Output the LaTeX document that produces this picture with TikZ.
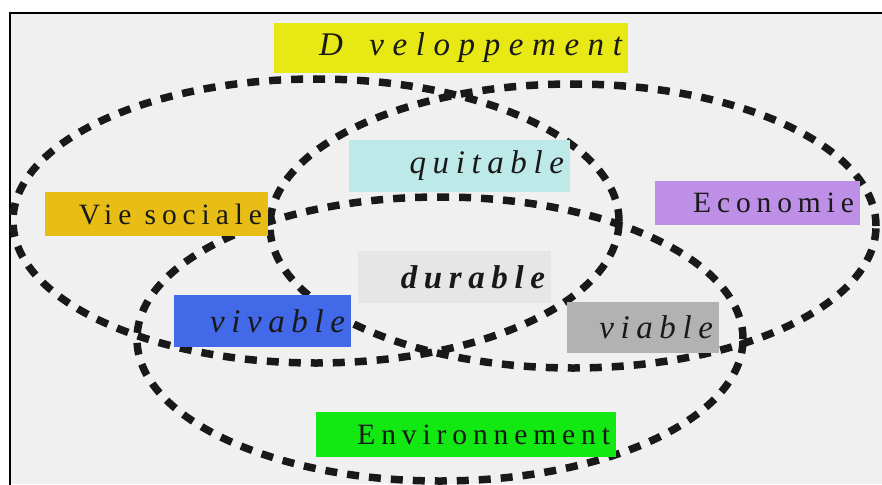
\documentclass[tikz,border=0pt]{standalone}
\usepackage{fontspec}
\setmainfont{Liberation Serif}
\newfontfamily\spacedfont[LetterSpace=20]{Liberation Serif}

\definecolor{paper}{RGB}{240,240,240}
\definecolor{devyellow}{RGB}{232,232,20}
\definecolor{socgold}{RGB}{232,190,22}
\definecolor{equcyan}{RGB}{190,233,233}
\definecolor{ecopurple}{RGB}{190,143,230}
\definecolor{durgray}{RGB}{230,230,230}
\definecolor{vivblue}{RGB}{65,105,232}
\definecolor{viagray}{RGB}{178,178,178}
\definecolor{envgreen}{RGB}{18,232,18}

\tikzset{
  ring/.style={line width=7.5pt, dash pattern=on 12pt off 10pt, black!90},
  tag/.style={fill=#1, inner xsep=6pt, inner ysep=0pt, align=right, text=black!90},
  uplabel/.style={font=\spacedfont\fontsize{29.5}{34}\selectfont},
  itlabel/.style={font=\spacedfont\itshape\fontsize{33}{38}\selectfont},
  bilabel/.style={font=\spacedfont\bfseries\itshape\fontsize{33}{38}\selectfont},
}

\begin{document}
\begin{tikzpicture}[x=1pt, y=-1pt]
    \useasboundingbox (0,0) rectangle (882,484);

    % sheet and frame
    \fill[white] (0,0) rectangle (882,484);
    \fill[paper] (10,13) rectangle (882,484);
    \draw[line width=2.5pt] (10,490) |- (890,13);

    % the three rings: social, economy, environment
    \foreach \cx/\cy in {316/221, 573/226, 440/339} {
        \draw[ring] (\cx,\cy) ellipse [x radius=303pt, y radius=142pt];
    }

    % title
    \node[tag=devyellow, itlabel, text width=342pt, minimum height=50pt] (dev) at (451,48)
        {\addfontfeature{LetterSpace=26}D\hspace{0.8em}veloppement};

    % pillars
    \node[tag=socgold, uplabel, text width=211pt, minimum height=44pt] (soc) at (156.5,214) {Vie\hspace{0.45em}sociale};
    \node[tag=ecopurple, uplabel, text width=193pt, minimum height=44pt] (eco) at (757.5,203) {Economie};
    \node[tag=envgreen, uplabel, text width=288pt, minimum height=45pt] (env) at (466,434.5) {Environnement};

    % overlaps
    \node[tag=equcyan, itlabel, text width=209pt, minimum height=52pt] (equ) at (459.5,166) {quitable};
    \node[tag=vivblue, itlabel, text width=165pt, minimum height=52pt] (viv) at (262.5,321) {vivable};
    \node[tag=viagray, itlabel, text width=140pt, minimum height=51pt] (via) at (643,327.5) {viable};
    \node[tag=durgray, bilabel, text width=181pt, minimum height=52pt] (dur) at (454.5,277) {durable};
\end{tikzpicture}
\end{document}
